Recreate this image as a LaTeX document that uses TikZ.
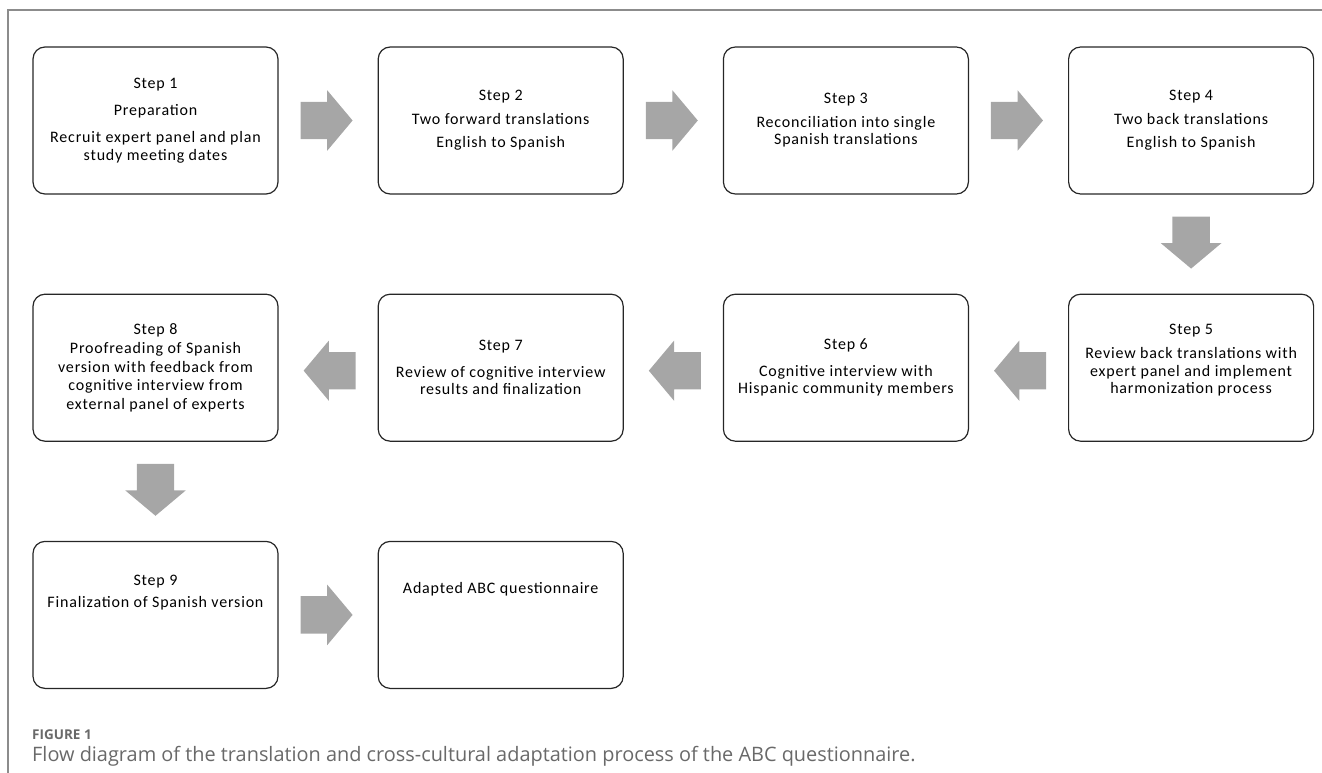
\documentclass[tikz,border=0pt]{standalone}
\usepackage{fontspec}
\setmainfont{Carlito}[LetterSpace=5]
\newfontfamily\capfont{Open Sans}
\usepackage{tikz}
\definecolor{arrowgray}{RGB}{166,166,166}
\definecolor{framegray}{RGB}{140,140,140}
\definecolor{captiongray}{RGB}{105,105,105}
\usetikzlibrary{positioning, shapes.arrows, calc}
\tikzstyle{stepbox} = [draw=black!85, line width=1.2pt, rectangle, rounded corners=12pt, minimum width=245pt, minimum height=147pt, align=center, font=\fontsize{16}{17.5}\selectfont]
\tikzstyle{flow} = [single arrow, fill=arrowgray, anchor=tail, inner xsep=0pt, inner ysep=18.5pt, minimum height=52pt, single arrow head extend=11.5pt, single arrow tip angle=100]
\tikzstyle{caption} = [anchor=base west, inner sep=0pt, text=captiongray]

\begin{document}
\begin{tikzpicture}[node distance=99pt]
    \useasboundingbox (0,0) rectangle (1322pt,-773pt);
    \draw [framegray, line width=1.3pt] (8pt,-773pt) |- (1322pt,-10pt);

    % Place the blocks
    \node [stepbox] (s1) at (155.5pt,-120.5pt) {Step 1\\[9pt] Preparation\\[10pt] Recruit expert panel and plan\\ study meeting dates};
    \node [stepbox, right=of s1] (s2) {Step 2\\[6pt] Two forward translations\\[6pt] English to Spanish};
    \node [stepbox, right=of s2] (s3) {Step 3\\[6pt] Reconciliation into single\\ Spanish translations};
    \node [stepbox, right=of s3] (s4) {Step 4\\[6pt] Two back translations\\[6pt] English to Spanish};
    \node [stepbox, below=of s4] (s5) {Step 5\\[7pt] Review back translations with\\ expert panel and implement\\ harmonization process\\ ~};
    \node [stepbox, left=of s5] (s6) {Step 6\\[9pt] Cognitive interview with\\ Hispanic community members};
    \node [stepbox, left=of s6] (s7) {Step 7\\[9pt] Review of cognitive interview\\ results and finalization};
    \node [stepbox, left=of s7] (s8) {Step 8\\[2pt] Proofreading of Spanish\\[1pt] version with feedback from\\[1pt] cognitive interview from\\[1pt] external panel of experts};
    \node [stepbox, below=of s8] (s9) {Step 9\\[5pt] Finalization of Spanish version\\[30pt]\mbox{}};
    \node [stepbox, right=of s9] (abc) {Adapted ABC questionnaire\\[37pt]\mbox{}};

    % Connect the nodes
    \node [flow] (a12) at ($(s1.east)!0.22!(s2.west)$) {};
    \node [flow] (a23) at ($(s2.east)!0.22!(s3.west)$) {};
    \node [flow] (a34) at ($(s3.east)!0.22!(s4.west)$) {};
    \node [flow, rotate=270] (a45) at ($(s4.south)!0.22!(s5.north)$) {};
    \node [flow, rotate=180] (a56) at ($(s5.west)!0.22!(s6.east)+(0,-3pt)$) {};
    \node [flow, rotate=180] (a67) at ($(s6.west)!0.22!(s7.east)+(0,-3pt)$) {};
    \node [flow, rotate=180] (a78) at ($(s7.west)!0.22!(s8.east)+(0,-3pt)$) {};
    \node [flow, rotate=270] (a89) at ($(s8.south)!0.22!(s9.north)$) {};
    \node [flow] (a9abc) at ($(s9.east)!0.22!(abc.west)$) {};

    % Caption
    \node [caption, font=\capfont\bfseries\fontsize{13.5}{16}\selectfont] (figlabel) at (32pt,-739pt) {FIGURE 1};
    \node [caption, font=\capfont\fontsize{19.9}{23}\selectfont] (figtext) at (32pt,-761pt) {Flow diagram of the translation and cross-cultural adaptation process of the ABC questionnaire.};
\end{tikzpicture}
\end{document}
